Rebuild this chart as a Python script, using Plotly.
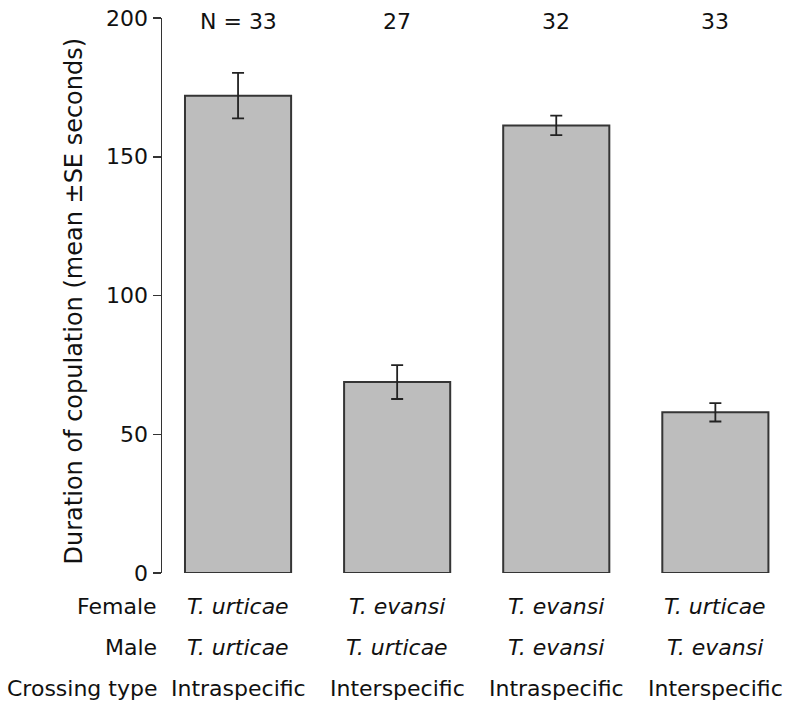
import plotly.graph_objects as go

# ---- data ----
positions = [0, 1, 2, 3]
means = [172.0, 68.8, 161.3, 57.9]
se = [8.2, 6.1, 3.5, 3.3]
n_labels = ["N = 33", "27", "32", "33"]
females = ["T. urticae", "T. evansi", "T. evansi", "T. urticae"]
males = ["T. urticae", "T. urticae", "T. evansi", "T. evansi"]
crossing = ["Intraspecific", "Interspecific", "Intraspecific", "Interspecific"]
row_names = ["Female", "Male", "Crossing type"]
y_ticks = [0, 50, 100, 150, 200]
y_title = "Duration of copulation (mean \u00b1SE seconds)"

FONT = "DejaVu Sans"
FS = 22
TXT = "#111111"
W, H = 785, 703
ML, MR, MT, MB = 162, 6, 15, 130
PH = H - MT - MB

def ypaper(px):
    return (H - MB - px) / PH

def xpaper(px):
    return (px - ML) / (W - ML - MR)

fig = go.Figure()
fig.add_trace(go.Bar(
    x=positions, y=means, width=0.667,
    marker=dict(color="#bdbdbd", line=dict(color="#353535", width=2)),
    error_y=dict(type="data", array=se, visible=True, color="#222222",
                 thickness=1.8, width=6),
    showlegend=False, hoverinfo="skip",
))

annotations = []
for xi, t in zip(positions, n_labels):
    annotations.append(dict(x=xi, y=ypaper(19), xref="x", yref="paper", text=t,
                            showarrow=False, xanchor="center", yanchor="middle",
                            font=dict(family=FONT, size=FS, color=TXT)))

row_y = [607, 648, 689]
rows = [females, males, crossing]
for name, ry, vals in zip(row_names, row_y, rows):
    annotations.append(dict(x=xpaper(159), y=ypaper(ry), xref="paper", yref="paper",
                            text=name, showarrow=False, xanchor="right", yanchor="middle",
                            font=dict(family=FONT, size=FS, color=TXT)))
    for xi, v in zip(positions, vals):
        txt = v if name == "Crossing type" else "<i>" + v + "</i>"
        annotations.append(dict(x=xi, y=ypaper(ry), xref="x", yref="paper", text=txt,
                                showarrow=False, xanchor="center", yanchor="middle",
                                font=dict(family=FONT, size=FS, color=TXT)))

annotations.append(dict(x=xpaper(74), y=ypaper(300), xref="paper", yref="paper",
                        text=y_title, textangle=-90, showarrow=False,
                        xanchor="center", yanchor="middle",
                        font=dict(family=FONT, size=24, color=TXT)))

fig.update_layout(
    width=W, height=H,
    margin=dict(l=ML, r=MR, t=MT, b=MB),
    paper_bgcolor="white", plot_bgcolor="white",
    annotations=annotations,
    xaxis=dict(range=[-0.478, 3.4], visible=False, showgrid=False, zeroline=False),
    yaxis=dict(range=[0, 200], tickvals=y_ticks, ticks="outside", ticklen=8,
               tickwidth=1.5, tickcolor="#333333", showline=True, linecolor="#333333",
               linewidth=1.5, showgrid=False, zeroline=False,
               tickfont=dict(family=FONT, size=FS, color=TXT)),
)

fig.write_html("out.html", config={"displayModeBar": False, "staticPlot": True},
               post_script="document.body.style.margin='0';document.body.style.padding='0';document.body.style.overflow='hidden';")
